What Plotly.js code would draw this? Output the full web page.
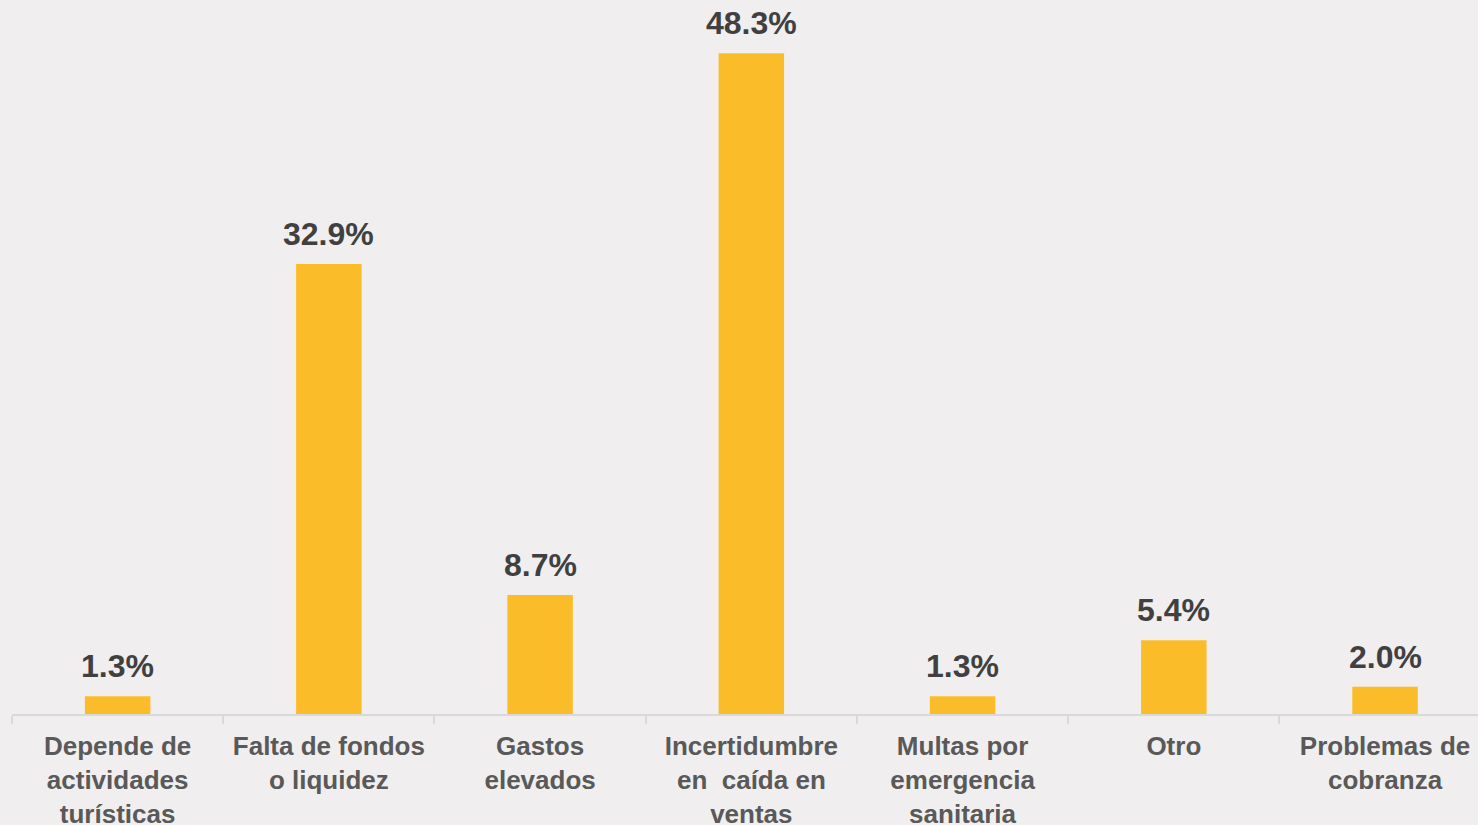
<!DOCTYPE html>
<html>
<head>
<meta charset="utf-8">
<script src="https://cdn.plot.ly/plotly-3.0.1.min.js"></script>
<style>
html,body{margin:0;padding:0;background:#F0EEEF;}
#chart{width:1478px;height:825px;}
</style>
</head>
<body>
<div id="chart"></div>
<script>
const categories = [
  "Depende de<br>actividades<br>turísticas",
  "Falta de fondos<br>o liquidez",
  "Gastos<br>elevados",
  "Incertidumbre<br>en  caída en<br>ventas",
  "Multas por<br>emergencia<br>sanitaria",
  "Otro",
  "Problemas de<br>cobranza"
];
const values = [1.3, 32.9, 8.7, 48.3, 1.3, 5.4, 2.0];
const valueLabels = values.map(v => v.toFixed(1) + "%");

const trace = {
  type: "bar",
  x: categories,
  y: values,
  width: 0.31,
  marker: {color: "#FBBC2A"},
  hoverinfo: "skip"
};

const annotations = categories.map((c, i) => ({
  x: c, y: values[i], xref: "x", yref: "y",
  text: valueLabels[i], showarrow: false,
  yanchor: "bottom", yshift: 10,
  font: {family: "Liberation Sans, Arial, sans-serif", size: 32, color: "#404040", weight: "bold"}
}));

const layout = {
  width: 1478, height: 825,
  paper_bgcolor: "#F0EEEF", plot_bgcolor: "#F0EEEF",
  margin: {l: 12, r: 0, t: 0, b: 111},
  showlegend: false,
  xaxis: {
    type: "category",
    range: [-0.5, 6.44],
    showline: true, linecolor: "#D9D9D9", linewidth: 2,
    ticks: "outside", tickson: "boundaries", ticklen: 8, tickcolor: "#D9D9D9", tickwidth: 2,
    ticklabelstandoff: 8,
    tickfont: {family: "Liberation Sans, Arial, sans-serif", size: 26, color: "#595959", weight: "bold"},
    showgrid: false, zeroline: false, automargin: false, fixedrange: true
  },
  yaxis: {
    range: [0, 52.2], visible: false, showgrid: false, zeroline: false, fixedrange: true
  },
  annotations: annotations
};

Plotly.newPlot("chart", [trace], layout, {displayModeBar: false, staticPlot: true});
</script>
</body>
</html>
